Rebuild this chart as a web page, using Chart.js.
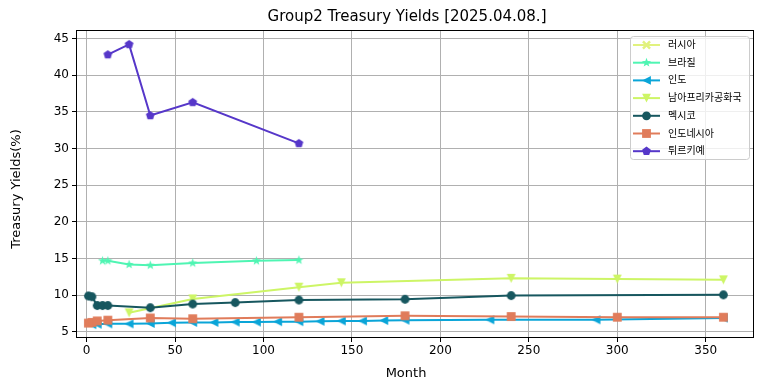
<!DOCTYPE html>
<html>
<head>
<meta charset="utf-8">
<script src="https://cdn.jsdelivr.net/npm/chart.js@4.4.1/dist/chart.umd.min.js"></script>
<style>
html, body { margin: 0; padding: 0; background: #fff; }
#wrap { width: 764px; height: 391px; }
</style>
</head>
<body>
<div id="wrap"><canvas id="yieldChart" width="764" height="391"></canvas></div>
<script>
// chart data
const chartTitle = 'Group2 Treasury Yields [2025.04.08.]';
const xAxisLabel = 'Month';
const yAxisLabel = 'Treasury Yields(%)';
const xTicks = [0, 50, 100, 150, 200, 250, 300, 350];
const yTicks = [5, 10, 15, 20, 25, 30, 35, 40, 45];

const countries = ['러시아', '브라질', '인도', '남아프리카공화국', '멕시코', '인도네시아', '튀르키예'];

const russiaMonths = [];
const russiaYields = [];

const brazilMonths = [9, 12, 24, 36, 60, 96, 120];
const brazilYields = [14.7, 14.7, 14.2, 14.1, 14.4, 14.7, 14.8];

const indiaMonths = [3, 6, 12, 24, 36, 48, 60, 72, 84, 96, 108, 120, 132, 144, 156, 168, 180, 228, 288, 360];
const indiaYields = [6.0, 6.05, 6.1, 6.1, 6.15, 6.25, 6.3, 6.3, 6.35, 6.35, 6.4, 6.4, 6.45, 6.5, 6.5, 6.55, 6.6, 6.65, 6.65, 6.9];

const safricaMonths = [24, 60, 120, 144, 240, 300, 360];
const safricaYields = [7.6, 9.5, 11.1, 11.7, 12.3, 12.2, 12.1];

const mexicoMonths = [1, 3, 6, 9, 12, 36, 60, 84, 120, 180, 240, 360];
const mexicoYields = [9.9, 9.8, 8.6, 8.6, 8.6, 8.3, 8.8, 9.0, 9.35, 9.45, 9.95, 10.05];

const indonesiaMonths = [1, 3, 6, 12, 36, 60, 120, 180, 240, 300, 360];
const indonesiaYields = [6.2, 6.3, 6.5, 6.6, 6.9, 6.8, 7.0, 7.2, 7.1, 7.0, 7.0];

const turkeyMonths = [12, 24, 36, 60, 120];
const turkeyYields = [42.8, 44.2, 34.5, 36.3, 30.7];

const colors = ['#e1f27e', '#4ff5b3', '#0aa5d8', '#cdf566', '#17575f', '#e07c5b', '#5637c9'];
const markers = ['xfill', 'star', 'left', 'down', 'circle', 'square', 'pentagon'];

const monthSets = [russiaMonths, brazilMonths, indiaMonths, safricaMonths, mexicoMonths, indonesiaMonths, turkeyMonths];
const yieldSets = [russiaYields, brazilYields, indiaYields, safricaYields, mexicoYields, indonesiaYields, turkeyYields];

const FONT = '"DejaVu Sans", "Noto Sans CJK KR", sans-serif';
const MR = 4.4;

function drawMarker(ctx, shape, x, y, r, color) {
  ctx.save();
  ctx.fillStyle = color;
  ctx.beginPath();
  if (shape === 'circle') {
    ctx.arc(x, y, r, 0, Math.PI * 2);
  } else if (shape === 'square') {
    ctx.rect(x - r, y - r, r * 2, r * 2);
  } else if (shape === 'left') {
    ctx.moveTo(x - r, y); ctx.lineTo(x + r, y - r); ctx.lineTo(x + r, y + r);
  } else if (shape === 'down') {
    ctx.moveTo(x, y + r); ctx.lineTo(x - r, y - r); ctx.lineTo(x + r, y - r);
  } else if (shape === 'pentagon') {
    for (let i = 0; i < 5; i++) {
      const a = -Math.PI / 2 + i * 2 * Math.PI / 5;
      const px = x + r * 1.05 * Math.cos(a), py = y + r * 1.05 * Math.sin(a);
      if (i === 0) ctx.moveTo(px, py); else ctx.lineTo(px, py);
    }
  } else if (shape === 'star') {
    for (let i = 0; i < 10; i++) {
      const a = -Math.PI / 2 + i * Math.PI / 5;
      const rr = i % 2 === 0 ? r * 1.1 : r * 0.45;
      const px = x + rr * Math.cos(a), py = y + rr * Math.sin(a);
      if (i === 0) ctx.moveTo(px, py); else ctx.lineTo(px, py);
    }
  } else if (shape === 'xfill') {
    const w = r * 0.4;
    const pts = [[-w, 0], [-r, r - w], [-r + w, r], [0, w], [r - w, r], [r, r - w], [w, 0], [r, -r + w], [r - w, -r], [0, -w], [-r + w, -r], [-r, -r + w]];
    pts.forEach((p, i) => { if (i === 0) ctx.moveTo(x + p[0], y + p[1]); else ctx.lineTo(x + p[0], y + p[1]); });
  }
  ctx.closePath();
  ctx.fill();
  ctx.restore();
}

function markerImage(shape, color) {
  const c = document.createElement('canvas');
  const s = Math.ceil(MR * 2 + 4);
  c.width = s; c.height = s;
  drawMarker(c.getContext('2d'), shape, s / 2, s / 2, MR, color);
  return c;
}

const datasets = countries.map((name, i) => ({
  label: name,
  data: monthSets[i].map((m, j) => ({ x: m, y: yieldSets[i][j] })),
  borderColor: colors[i],
  backgroundColor: colors[i],
  borderWidth: 2,
  pointStyle: markerImage(markers[i], colors[i]),
  pointRadius: MR,
  pointHoverRadius: MR,
  tension: 0,
  order: countries.length - i
}));

const framePlugin = {
  id: 'frame',
  afterDraw(chart) {
    const ctx = chart.ctx;
    const a = chart.chartArea;
    ctx.save();
    // axes frame
    ctx.strokeStyle = '#000';
    ctx.lineWidth = 1;
    ctx.strokeRect(a.left + 0.5, a.top + 0.5, a.right - a.left - 1, a.bottom - a.top - 1);
    // title and axis titles
    ctx.fillStyle = '#000';
    ctx.textAlign = 'center';
    ctx.textBaseline = 'middle';
    ctx.font = '15px ' + FONT;
    ctx.fillText(chartTitle, 407, 17);
    ctx.font = '13px ' + FONT;
    ctx.fillText(xAxisLabel, 406, 374);
    ctx.save();
    ctx.translate(17, 189);
    ctx.rotate(-Math.PI / 2);
    ctx.fillText(yAxisLabel, 0, 0);
    ctx.restore();
    // legend
    const bx = 630, by = 36, bw = 119, bh = 123;
    ctx.fillStyle = 'rgba(255,255,255,0.8)';
    ctx.strokeStyle = '#cccccc';
    ctx.beginPath();
    ctx.roundRect(bx + 0.5, by + 0.5, bw, bh, 3);
    ctx.fill();
    ctx.stroke();
    ctx.font = '10px ' + FONT;
    ctx.textAlign = 'left';
    chart.data.datasets.forEach((ds, i) => {
      const ry = 45 + i * 17.7;
      ctx.strokeStyle = ds.borderColor;
      ctx.lineWidth = 2;
      ctx.beginPath();
      ctx.moveTo(633, ry);
      ctx.lineTo(660, ry);
      ctx.stroke();
      drawMarker(ctx, markers[i], 646.5, ry, MR, ds.borderColor);
      ctx.fillStyle = '#000';
      ctx.fillText(ds.label, 668, ry + 0.5);
    });
    ctx.restore();
  }
};

function noPad(scale) {
  scale.paddingLeft = 0; scale.paddingRight = 0;
  scale.paddingTop = 0; scale.paddingBottom = 0;
}

new Chart(document.getElementById('yieldChart'), {
  type: 'line',
  data: { datasets },
  options: {
    responsive: false,
    animation: false,
    events: [],
    layout: { padding: { top: 30, right: 10, left: 0, bottom: 0 } },
    plugins: { legend: { display: false }, title: { display: false }, tooltip: { enabled: false } },
    scales: {
      x: {
        type: 'linear',
        min: -6,
        max: 377.3,
        afterBuildTicks: s => { s.ticks = xTicks.map(v => ({ value: v })); },
        afterFit: s => { s.height = 53; noPad(s); },
        grid: { color: '#b0b0b0', lineWidth: 1, tickColor: '#000', tickLength: 4 },
        border: { display: false },
        ticks: { color: '#000', font: { family: FONT, size: 12 }, padding: 2, maxRotation: 0 }
      },
      y: {
        type: 'linear',
        min: 4.17,
        max: 46.16,
        afterBuildTicks: s => { s.ticks = yTicks.map(v => ({ value: v })); },
        afterFit: s => { s.width = 76; noPad(s); },
        grid: { color: '#b0b0b0', lineWidth: 1, tickColor: '#000', tickLength: 4 },
        border: { display: false },
        ticks: { color: '#000', font: { family: FONT, size: 12 }, padding: 3 }
      }
    }
  },
  plugins: [framePlugin]
});
</script>
</body>
</html>
